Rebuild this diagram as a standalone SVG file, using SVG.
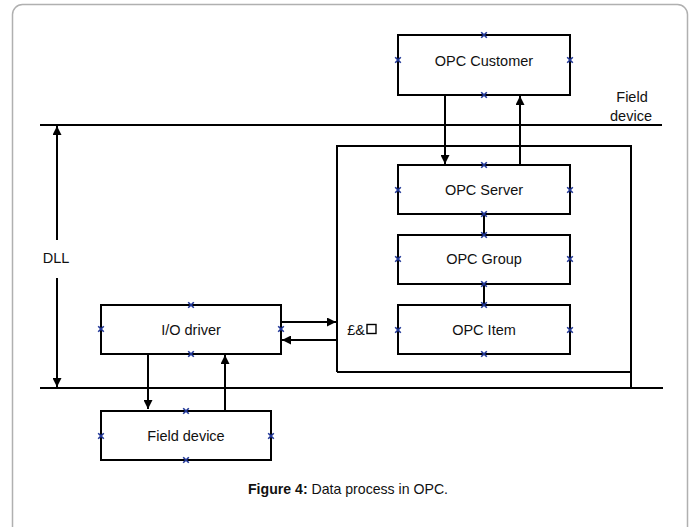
<svg xmlns="http://www.w3.org/2000/svg" width="696" height="527" viewBox="0 0 696 527">
  <defs>
    <marker id="arr" viewBox="0 0 10 10" refX="10" refY="5" markerWidth="9" markerHeight="9" markerUnits="userSpaceOnUse" orient="auto">
      <path d="M0,0 L10,5 L0,10 Z" fill="#000"/>
    </marker>
    <g id="xm">
      <path d="M-2.8,-2.8 L2.8,2.8 M-2.8,2.8 L2.8,-2.8" stroke="#1f3596" stroke-width="1.6"/>
    </g>
  </defs>
  <style>
    .box { fill: #fff; stroke: #000; stroke-width: 2; }
    .ln { stroke: #000; stroke-width: 2; fill: none; }
    .lbl { font-family: "Liberation Sans", Arial, sans-serif; font-size: 14.5px; fill: #111; text-anchor: middle; }
    .cap { font-family: "Liberation Sans", Arial, sans-serif; font-size: 14.5px; fill: #111; }
  </style>

  <rect width="696" height="527" fill="#fff"/>
  <!-- page frame -->
  <rect x="12.5" y="4.5" width="675" height="540" rx="10" fill="none" stroke="#b0b0b0" stroke-width="1.5"/>

  <!-- horizontal level lines -->
  <g id="levels">
    <line class="ln" x1="40" y1="125" x2="662" y2="125"/>
    <line class="ln" x1="40" y1="388" x2="663" y2="388"/>
    <text class="lbl" x="632" y="102">Field</text>
    <text class="lbl" x="631" y="121">device</text>
  </g>

  <!-- server enclosure -->
  <g id="server-area">
    <path class="ln" d="M337,372 V146 H631 V388 M337,372 H631"/>
    <text class="lbl" x="356" y="335">£&amp;</text>
    <rect x="367" y="324.5" width="9" height="9" fill="none" stroke="#000" stroke-width="1.4"/>
  </g>

  <g id="connectors">
    <line class="ln" x1="445" y1="95" x2="445" y2="164" marker-end="url(#arr)"/>
    <line class="ln" x1="520" y1="165" x2="520" y2="96" marker-end="url(#arr)"/>
    <line class="ln" x1="484" y1="214" x2="484" y2="235"/>
    <line class="ln" x1="484" y1="284" x2="484" y2="305"/>
    <line class="ln" x1="281" y1="322" x2="336" y2="322" marker-end="url(#arr)"/>
    <line class="ln" x1="337" y1="340" x2="282" y2="340" marker-end="url(#arr)"/>
    <line class="ln" x1="148" y1="354" x2="148" y2="409" marker-end="url(#arr)"/>
    <line class="ln" x1="225" y1="410" x2="225" y2="355" marker-end="url(#arr)"/>
    <line class="ln" x1="57" y1="240" x2="57" y2="126" marker-end="url(#arr)"/>
    <line class="ln" x1="57" y1="278" x2="57" y2="387" marker-end="url(#arr)"/>
  </g>

  <text class="lbl" x="56" y="263">DLL</text>

  <g id="opc-customer">
    <rect class="box" x="398" y="35" width="172" height="60"/>
    <text class="lbl" x="484" y="66">OPC Customer</text>
    <use href="#xm" x="484" y="35"/><use href="#xm" x="484" y="95"/>
    <use href="#xm" x="398" y="60"/><use href="#xm" x="570" y="60"/>
  </g>

  <g id="opc-server">
    <rect class="box" x="398" y="165" width="172" height="49"/>
    <text class="lbl" x="484" y="195">OPC Server</text>
    <use href="#xm" x="484" y="165"/><use href="#xm" x="484" y="214"/>
    <use href="#xm" x="398" y="190"/><use href="#xm" x="570" y="190"/>
  </g>

  <g id="opc-group">
    <rect class="box" x="398" y="235" width="172" height="49"/>
    <text class="lbl" x="484" y="264">OPC Group</text>
    <use href="#xm" x="484" y="235"/><use href="#xm" x="484" y="284"/>
    <use href="#xm" x="398" y="259"/><use href="#xm" x="570" y="259"/>
  </g>

  <g id="opc-item">
    <rect class="box" x="398" y="305" width="172" height="49"/>
    <text class="lbl" x="484" y="335">OPC Item</text>
    <use href="#xm" x="484" y="305"/><use href="#xm" x="484" y="354"/>
    <use href="#xm" x="398" y="330"/><use href="#xm" x="570" y="330"/>
  </g>

  <g id="io-driver">
    <rect class="box" x="101" y="305" width="180" height="49"/>
    <text class="lbl" x="191" y="335">I/O driver</text>
    <use href="#xm" x="191" y="305"/><use href="#xm" x="191" y="354"/>
    <use href="#xm" x="101" y="329"/><use href="#xm" x="281" y="329"/>
  </g>

  <g id="field-device">
    <rect class="box" x="101" y="411" width="170" height="49"/>
    <text class="lbl" x="186" y="441">Field device</text>
    <use href="#xm" x="186" y="411"/><use href="#xm" x="186" y="460"/>
    <use href="#xm" x="101" y="436"/><use href="#xm" x="271" y="436"/>
  </g>

  <text class="cap" x="348" y="494" text-anchor="middle" textLength="200" lengthAdjust="spacingAndGlyphs"><tspan font-weight="bold">Figure 4:</tspan> Data process in OPC.</text>
</svg>
